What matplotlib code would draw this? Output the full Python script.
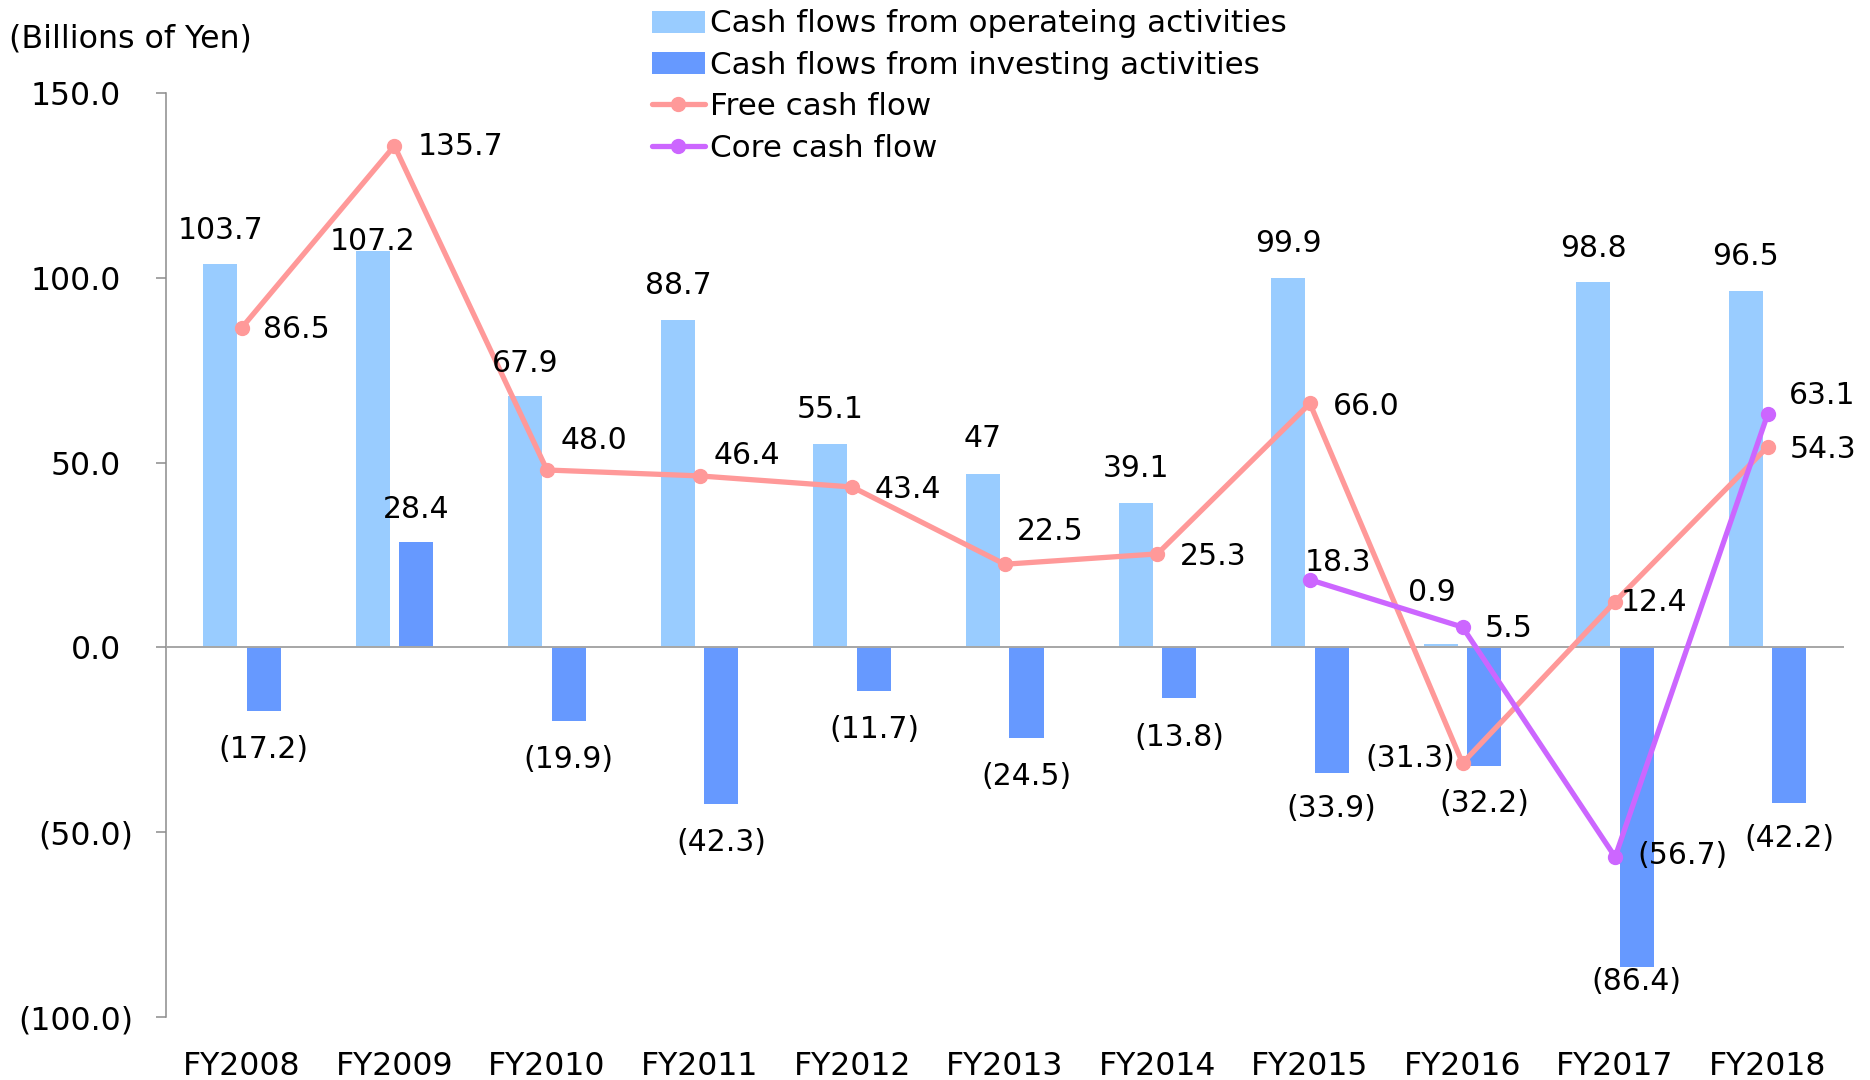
import numpy as np
import matplotlib
matplotlib.use("Agg")
import matplotlib.pyplot as plt

plt.rcParams['font.family'] = ['DejaVu Sans']

# ---- data (billions of yen) ----
years = ["FY2008", "FY2009", "FY2010", "FY2011", "FY2012", "FY2013",
         "FY2014", "FY2015", "FY2016", "FY2017", "FY2018"]
operating = [103.7, 107.2, 67.9, 88.7, 55.1, 47, 39.1, 99.9, 0.9, 98.8, 96.5]
investing = [-17.2, 28.4, -19.9, -42.3, -11.7, -24.5, -13.8, -33.9, -32.2, -86.4, -42.2]
free_cf = [86.5, 135.7, 48.0, 46.4, 43.4, 22.5, 25.3, 66.0, -31.3, 12.4, 54.3]
core_cf = [None, None, None, None, None, None, None, 18.3, 5.5, -56.7, 63.1]
yticks = [-100, -50, 0, 50, 100, 150]

series_names = ["Cash flows from operateing activities",
                "Cash flows from investing activities",
                "Free cash flow",
                "Core cash flow"]

# ---- label placement (pixel offsets: dx right, dy down) ----
op_lbl_off = [(0, -34), (0, -10), (0, -33), (0, -34), (0, -34), (0, -35),
              (0, -34), (0, -35), (-9, -52), (0, -34), (0, -34)]
inv_lbl_off = [(0, 39), (0, -33), (0, 39), (0, 39), (0, 39), (0, 38.5),
               (0, 39.5), (0, 36), (0, 37), (0, 15), (0, 35)]
fcf_lbl_off = [(21, 2, 'left'), (23, 1, 'left'), (14, -29.5, 'left'),
               (13.5, -20, 'left'), (22, 3, 'left'), (12.5, -32.7, 'left'),
               (23, 2.6, 'left'), (22.5, 3, 'left'), (-7, -5, 'right'),
               (6, 1.2, 'left'), (22, 2.4, 'left')]
core_lbl_off = {7: (-5, -17), 8: (22.5, 1.7), 9: (22, -1), 10: (21.5, -18.4)}

C_OP = '#99CCFF'
C_INV = '#6699FF'
C_FCF = '#FF9999'
C_CORE = '#CC66FF'


def paren(v):
    return f"({abs(v):.1f})" if v < 0 else f"{v:.1f}"


def general(v):
    return f"{v:g}" if v >= 0 else f"({abs(v):g})"


W, H = 1870, 1080
fig = plt.figure(figsize=(W / 100, H / 100), dpi=100)
ax_left, ax_right, ax_top, ax_bottom = 165.5, 1844, 93, 1017
ax = fig.add_axes([ax_left / W, 1 - ax_bottom / H,
                   (ax_right - ax_left) / W, (ax_bottom - ax_top) / H])

x = np.arange(len(years))
bw = 0.223
off = 0.1425

b_op = ax.bar(x - off, operating, bw, color=C_OP, zorder=2, label=series_names[0])
b_inv = ax.bar(x + off, investing, bw, color=C_INV, zorder=2, label=series_names[1])

core_arr = np.array([np.nan if v is None else v for v in core_cf], dtype=float)
l_fcf, = ax.plot(x, free_cf, color=C_FCF, lw=3.8, marker='o', ms=10,
                 solid_joinstyle='round', solid_capstyle='round',
                 zorder=4, label=series_names[2])
l_core, = ax.plot(x, core_arr, color=C_CORE, lw=3.8, marker='o', ms=10,
                  solid_joinstyle='round', solid_capstyle='round',
                  zorder=5, label=series_names[3])

ax.axhline(0, color='#A6A6A6', lw=1.4, zorder=3)

ax.set_xlim(-0.5, len(years) - 0.5)
ax.set_ylim(-100, 150)
ax.set_yticks(yticks)
ax.set_yticklabels([paren(v) for v in yticks])
ax.set_xticks(x)
ax.set_xticklabels(years)

for s in ('top', 'right', 'bottom'):
    ax.spines[s].set_visible(False)
ax.spines['left'].set_color('#8C8C8C')
ax.spines['left'].set_linewidth(1.1)
ax.tick_params(axis='y', length=7.5, width=1.1, color='#8C8C8C',
               labelsize=22.7, direction='out')
ax.tick_params(axis='x', length=0, labelsize=22.7, pad=24.5)
for tk, v in zip(ax.yaxis.get_major_ticks(), yticks):
    tk.set_pad(15.5 if v < 0 else 24.5)

lbl_fs = 21.5

for i, v in enumerate(operating):
    dx, dy = op_lbl_off[i]
    ax.annotate(general(v), (x[i] - off, v), xytext=(dx, -dy),
                textcoords='offset pixels', ha='center', va='center',
                fontsize=lbl_fs, zorder=6)

for i, v in enumerate(investing):
    dx, dy = inv_lbl_off[i]
    ax.annotate(paren(v), (x[i] + off, v), xytext=(dx, -dy),
                textcoords='offset pixels', ha='center', va='center',
                fontsize=lbl_fs, zorder=6)

for i, v in enumerate(free_cf):
    dx, dy, ha = fcf_lbl_off[i]
    ax.annotate(paren(v), (x[i], v), xytext=(dx, -dy),
                textcoords='offset pixels', ha=ha, va='center',
                fontsize=lbl_fs, zorder=6)

for i, v in enumerate(core_cf):
    if v is None:
        continue
    dx, dy = core_lbl_off[i]
    ax.annotate(paren(v), (x[i], v), xytext=(dx, -dy),
                textcoords='offset pixels', ha='left', va='center',
                fontsize=lbl_fs, zorder=6)

fig.text(9 / W, 1 - 39 / H, "(Billions of Yen)", fontsize=22.8,
         ha='left', va='center')

leg = fig.legend([b_op, b_inv, l_fcf, l_core], series_names,
                 loc='upper left', bbox_to_anchor=(652 / W, 1 - 9.5 / H),
                 bbox_transform=fig.transFigure, frameon=False,
                 borderpad=0, borderaxespad=0, handlelength=1.7,
                 handletextpad=0.17, labelspacing=0.40, fontsize=22.3)

fig.savefig('out.png', dpi=100)
